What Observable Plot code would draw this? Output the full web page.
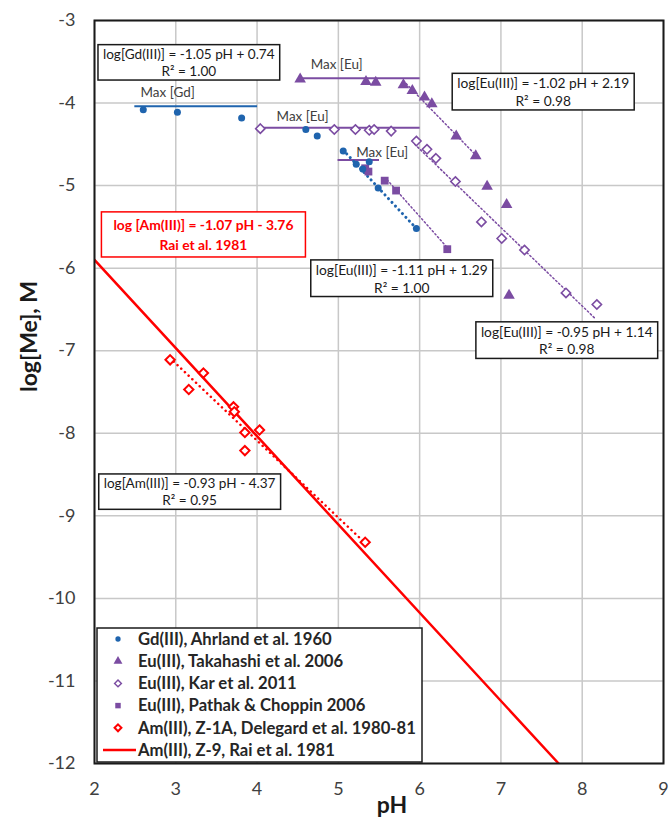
<!DOCTYPE html>
<html><head><meta charset="utf-8">
<script src="https://cdn.jsdelivr.net/npm/d3@7"></script>
<script src="https://cdn.jsdelivr.net/npm/@observablehq/plot@0.6"></script>
<style>
body{margin:0;background:#fff;}
#chart svg{display:block;}
</style></head><body><div id="chart"></div>
<script>
// ---- axis ticks ----
const xTicks = [2, 3, 4, 5, 6, 7, 8, 9];
const yTicks = [-3, -4, -5, -6, -7, -8, -9, -10, -11, -12];

// ---- series (pH, log[Me]) ----
const gdPH  = [2.60, 3.02, 3.81, 4.60, 4.74, 5.06, 5.22, 5.30, 5.38, 5.49, 5.96];
const gdLog = [-4.08, -4.11, -4.18, -4.32, -4.40, -4.58, -4.74, -4.80, -4.71, -5.03, -5.52];

const takPH  = [4.53, 5.34, 5.46, 5.80, 5.91, 6.06, 6.15, 6.45, 6.69, 6.83, 7.07, 7.10];
const takLog = [-3.71, -3.74, -3.75, -3.78, -3.85, -3.93, -4.01, -4.40, -4.64, -5.01, -5.23, -6.33];

const karPH  = [4.04, 4.95, 5.21, 5.38, 5.44, 5.65, 5.96, 6.09, 6.20, 6.44, 6.76, 7.01, 7.29, 7.80, 8.18];
const karLog = [-4.31, -4.32, -4.32, -4.33, -4.32, -4.34, -4.46, -4.56, -4.67, -4.95, -5.44, -5.64, -5.78, -6.30, -6.44];

const pathPH  = [5.33, 5.37, 5.57, 5.71, 6.34];
const pathLog = [-4.79, -4.83, -4.94, -5.06, -5.77];

const amPH  = [2.93, 3.16, 3.34, 3.71, 3.72, 3.85, 3.85, 4.03, 5.33];
const amLog = [-7.11, -7.47, -7.27, -7.68, -7.74, -7.99, -8.21, -7.96, -9.32];

// Rai et al. 1981 line (end points)
const raiPH  = [2.00, 7.71];
const raiLog = [-5.90, -12.00];

// fitted trend lines (end points)
const gdFitPH = [5.06, 5.96],  gdFitLog = [-4.57, -5.52];
const takFitPH = [5.80, 6.69], takFitLog = [-3.73, -4.63];
const karFitPH = [5.94, 8.17], karFitLog = [-4.50, -6.62];
const pathFitPH = [5.60, 6.33], pathFitLog = [-4.93, -5.74];
const amFitPH = [2.93, 5.33],  amFitLog = [-7.09, -9.33];

// "Max" solubility plateaus
const maxLabels = ["Max [Gd]", "Max [Eu]", "Max [Eu]", "Max [Eu]"];
const maxSeries = ["gd", "eu", "eu", "eu"];
const maxFrom   = [2.49, 4.00, 4.53, 4.99];
const maxTo     = [4.00, 6.00, 6.00, 5.50];
const maxLevel  = [-4.04, -4.30, -3.70, -4.69];
const maxLabelPH  = [2.90, 4.56, 4.98, 5.54];
const maxLabelLog = [-3.88, -4.17, -3.54, -4.60];

// equation boxes (centre of each box, in chart units)
const eqTexts = [
  "log[Gd(III)] = -1.05 pH + 0.74\nR² = 1.00",
  "log[Eu(III)] = -1.02 pH + 2.19\nR² = 0.98",
  "log[Eu(III)] = -1.11 pH + 1.29\nR² = 1.00",
  "log[Eu(III)] = -0.95 pH + 1.14\nR² = 0.98",
  "log[Am(III)] = -0.93 pH - 4.37\nR² = 0.95"
];
const eqPH  = [3.16, 7.52, 5.78, 7.81, 3.17];
const eqLog = [-3.50, -3.86, -6.12, -6.87, -8.70];
const raiText = "log [Am(III)] = -1.07 pH - 3.76\nRai et al. 1981";
const raiTextPH = 3.34, raiTextLog = -5.58;

// legend
const legendLabels = [
  "Gd(III), Ahrland et al. 1960",
  "Eu(III), Takahashi et al. 2006",
  "Eu(III), Kar et al. 2011",
  "Eu(III), Pathak & Choppin 2006",
  "Am(III), Z-1A, Delegard et al. 1980-81",
  "Am(III), Z-9, Rai et al. 1981"
];

// ---- build tables ----
const zip = (xs, ys) => xs.map((x, i) => ({pH: x, v: ys[i]}));
const gd = zip(gdPH, gdLog), tak = zip(takPH, takLog), kar = zip(karPH, karLog),
      path = zip(pathPH, pathLog), am = zip(amPH, amLog), rai = zip(raiPH, raiLog);
const maxRows = maxLabels.map((l, i) => ({label: l, s: maxSeries[i], x1: maxFrom[i], x2: maxTo[i], v: maxLevel[i], lx: maxLabelPH[i], ly: maxLabelLog[i]}));
const eqRows = eqTexts.map((t, i) => ({t, pH: eqPH[i], v: eqLog[i]}));

const BLUE = "#1F64AE", PURPLE = "#7B4CA2", RED = "#FF0000";
const FONT = "Lato, 'Open Sans', sans-serif";

const plot = Plot.plot({
  width: 671, height: 823,
  marginLeft: 94, marginRight: 8, marginTop: 20, marginBottom: 60,
  style: {fontFamily: FONT, fontSize: "18px", color: "#404040", background: "#fff"},
  x: {domain: [2, 9], ticks: xTicks, tickSize: 0, tickPadding: 19, label: null, tickFormat: d => String(d)},
  y: {domain: [-12, -3], ticks: yTicks, tickSize: 0, tickPadding: 19, label: null, tickFormat: d => String(d)},
  marks: [
    Plot.gridX(xTicks, {stroke: "#c8c8c8", strokeOpacity: 1, strokeWidth: 1.5}),
    Plot.gridY(yTicks, {stroke: "#c8c8c8", strokeOpacity: 1, strokeWidth: 1.5}),
    Plot.line(rai, {x: "pH", y: "v", stroke: RED, strokeWidth: 2.5, clip: true}),
    Plot.link(maxRows, {x1: "x1", x2: "x2", y1: "v", y2: "v", stroke: d => d.s === "gd" ? BLUE : PURPLE, strokeWidth: 2}),
    Plot.text(maxRows, {x: "lx", y: "ly", text: "label", fontSize: 14.5, fill: "#404040"}),
    Plot.line(zip(takFitPH, takFitLog), {x: "pH", y: "v", stroke: PURPLE, strokeWidth: 1.5, strokeDasharray: "1.5 2.5"}),
    Plot.line(zip(karFitPH, karFitLog), {x: "pH", y: "v", stroke: PURPLE, strokeWidth: 1.5, strokeDasharray: "1.5 2.5"}),
    Plot.line(zip(pathFitPH, pathFitLog), {x: "pH", y: "v", stroke: PURPLE, strokeWidth: 1.5, strokeDasharray: "1.5 2.5"}),
    Plot.line(zip(gdFitPH, gdFitLog), {x: "pH", y: "v", stroke: BLUE, strokeWidth: 3, strokeDasharray: "0.1 5", strokeLinecap: "round"}),
    Plot.line(zip(amFitPH, amFitLog), {x: "pH", y: "v", stroke: RED, strokeWidth: 2.5, strokeDasharray: "0.1 5", strokeLinecap: "round"}),
    Plot.dot(kar, {x: "pH", y: "v", symbol: "diamond2", r: 4.2, stroke: PURPLE, fill: "white", strokeWidth: 1.6}),
    Plot.dot(tak, {x: "pH", y: "v", symbol: "triangle", r: 4.3, fill: PURPLE}),
    Plot.dot(path, {x: "pH", y: "v", symbol: "square", r: 4.4, fill: PURPLE}),
    Plot.dot(gd, {x: "pH", y: "v", r: 3.5, fill: BLUE}),
    Plot.dot(am, {x: "pH", y: "v", symbol: "diamond2", r: 4.2, stroke: RED, fill: "white", strokeWidth: 2}),
    Plot.text(eqRows, {x: "pH", y: "v", text: "t", fontSize: 15, lineHeight: 1.28, fill: "#1a1a1a"}),
    Plot.text([raiText], {x: () => raiTextPH, y: () => raiTextLog, text: d => d, fontSize: 14, lineHeight: 1.45, fontWeight: "bold", fill: RED}),
    Plot.frame({stroke: "#1a1a1a", strokeWidth: 2}),
    Plot.text(["pH"], {frameAnchor: "bottom", dx: 13, dy: 49, text: d => d, fontSize: 23, fontWeight: "bold", fill: "#1a1a1a"}),
    Plot.text(["log[Me], M"], {frameAnchor: "left", dx: -65, rotate: -90, text: d => d, fontSize: 23, fontWeight: "bold", fill: "#1a1a1a"})
  ]
});

document.getElementById("chart").append(plot);

// scale a text's font so that its widest line has the target width
function fitWidth(t, target) {
  const fs = parseFloat(getComputedStyle(t).fontSize);
  const w = t.getBBox().width;
  if (w > 0) t.setAttribute("font-size", (fs * target / w).toFixed(2));
  return fs * target / w;
}
const allText = Array.from(plot.querySelectorAll("text"));
const byContent = s => allText.filter(t => t.textContent === s);

// max labels
const mx = byContent("Max [Eu]");
if (mx.length) {
  const fs = fitWidth(mx[0], 52);
  mx.concat(byContent("Max [Gd]")).forEach(t => t.setAttribute("font-size", fs.toFixed(2)));
}

// boxes behind equation texts
const NS = "http://www.w3.org/2000/svg";
const boxed = new Map();
eqTexts.forEach(t => boxed.set(t.replace(/\n/g, ""), {col: "#1a1a1a", w: 172, padX: 5, padY: 1}));
boxed.set(raiText.replace(/\n/g, ""), {col: RED, w: 180, padX: 12, padY: 4});
allText.forEach(t => {
  const spec = boxed.get(t.textContent);
  if (!spec) return;
  fitWidth(t, spec.w);
  const b = t.getBBox();
  const r = document.createElementNS(NS, "rect");
  const tr = t.getAttribute("transform");
  if (tr) r.setAttribute("transform", tr);
  r.setAttribute("x", b.x - spec.padX);
  r.setAttribute("y", b.y - spec.padY);
  r.setAttribute("width", b.width + 2 * spec.padX);
  r.setAttribute("height", b.height + 2 * spec.padY);
  r.setAttribute("fill", "white");
  r.setAttribute("stroke", spec.col);
  r.setAttribute("stroke-width", 1.5);
  t.parentNode.insertBefore(r, t);
});

// legend inside the plot area
const lg = d3.select(plot).append("g").attr("font-family", FONT).attr("text-anchor", "start");
lg.append("rect").attr("x", 97).attr("y", 628).attr("width", 325).attr("height", 134)
  .attr("fill", "white").attr("stroke", "#1a1a1a").attr("stroke-width", 1.5);
const legendSym = [
  {type: d3.symbolCircle, size: 22, fill: BLUE},
  {type: d3.symbolTriangle, size: 34, fill: PURPLE},
  {type: d3.symbolDiamond2, size: 30, fill: "white", stroke: PURPLE, sw: 1.4},
  {type: d3.symbolSquare, size: 30, fill: PURPLE},
  {type: d3.symbolDiamond2, size: 30, fill: "white", stroke: RED, sw: 2},
  null
];
const legTexts = [];
legendLabels.forEach((lab, i) => {
  const y = 639 + i * 22.2;
  const s = legendSym[i];
  if (s) {
    lg.append("path").attr("d", d3.symbol(s.type, s.size)()).attr("transform", `translate(118,${y})`)
      .attr("fill", s.fill).attr("stroke", s.stroke || "none").attr("stroke-width", s.sw || 0);
  } else {
    lg.append("line").attr("x1", 103).attr("x2", 136).attr("y1", y).attr("y2", y).attr("stroke", RED).attr("stroke-width", 2.5);
  }
  legTexts.push(lg.append("text").attr("x", 138).attr("y", y).attr("dy", "0.35em").attr("font-size", 16)
    .attr("font-weight", "bold").attr("fill", "#262626").attr("text-anchor", "start").text(lab).node());
});
{
  const fs = fitWidth(legTexts[4], 279);
  legTexts.forEach(t => t.setAttribute("font-size", fs.toFixed(2)));
}
</script>
</body></html>
